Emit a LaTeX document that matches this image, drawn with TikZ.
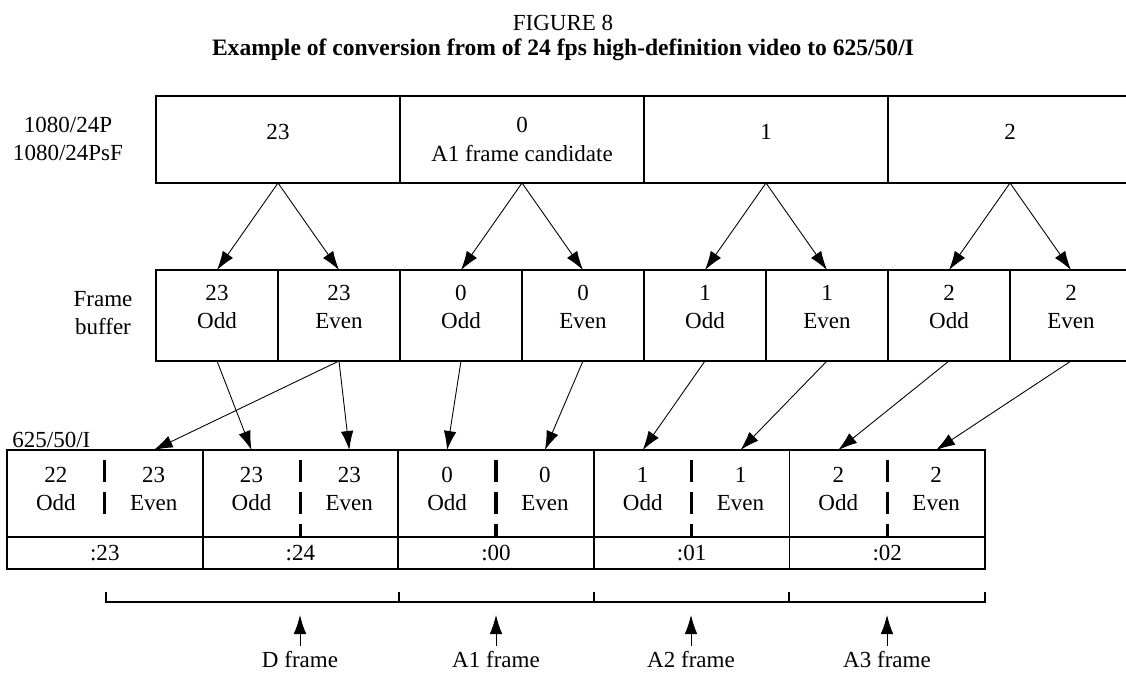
\documentclass[tikz,border=0pt]{standalone}
\usepackage{fontspec}
\setmainfont{Liberation Serif}
\usetikzlibrary{arrows.meta}

\tikzset{
  cellbox/.style={draw,line width=1pt,inner sep=0pt,outer sep=0pt,align=center},
  topcell/.style={cellbox,minimum width=4.88cm,minimum height=1.74cm},
  raised/.style={text depth=0.3cm},
  bufcell/.style={cellbox,minimum width=2.44cm,minimum height=1.82cm,text depth=0.35cm},
  fieldcell/.style={cellbox,minimum width=3.912cm,minimum height=1.74cm},
  timecell/.style={cellbox,minimum width=3.912cm,minimum height=0.64cm},
  halfcell/.style={inner sep=0pt,outer sep=0pt,align=center,minimum width=1.956cm,minimum height=1.74cm,text depth=0.18cm},
  split/.style={line width=1.8pt,dash pattern=on 0.44cm off 0.2cm},
  feed/.style={->,line width=0.5pt},
  bracket/.style={line width=0.8pt}
}

\begin{document}
\begin{tikzpicture}[x=0.02cm,y=-0.02cm,font=\fontsize{13.1}{16}\selectfont,
    >={Latex[length=3.8mm,width=2.5mm]}]
  \useasboundingbox (0,0) rectangle (1126,673);

  % titles
  \node (fig) at (563,23) {FIGURE 8};
  \node[font=\fontsize{13.4}{15}\selectfont\bfseries] (title) at (563,50)
    {Example of conversion from of 24 fps high-definition video to 625/50/I};

  % row labels
  \node[align=center] (src) at (68,139) {1080/24P\\1080/24PsF};
  \node[align=center] (buf) at (103,313) {Frame\\buffer};
  \node[anchor=west,inner sep=0pt] (out) at (12,440) {625/50/I};

  % source frames
  \node[topcell,raised] (s23) at (278,139.5) {23};
  \node[topcell] (s0) at (522,139.5) {0\\A1 frame candidate};
  \node[topcell,raised] (s1) at (766,139.5) {1};
  \node[topcell,raised] (s2) at (1010,139.5) {2};

  % frame buffer
  \node[bufcell] (b23o) at (217,315.5) {23\\Odd};
  \node[bufcell] (b23e) at (339,315.5) {23\\Even};
  \node[bufcell] (b0o) at (461,315.5) {0\\Odd};
  \node[bufcell] (b0e) at (583,315.5) {0\\Even};
  \node[bufcell] (b1o) at (705,315.5) {1\\Odd};
  \node[bufcell] (b1e) at (827,315.5) {1\\Even};
  \node[bufcell] (b2o) at (949,315.5) {2\\Odd};
  \node[bufcell] (b2e) at (1071,315.5) {2\\Even};

  % output frames
  \node[fieldcell] (f1) at (104.8,493.5) {};
  \node[fieldcell] (f2) at (300.4,493.5) {};
  \node[fieldcell] (f3) at (496,493.5) {};
  \node[fieldcell] (f4) at (691.6,493.5) {};
  \node[fieldcell] (f5) at (887.2,493.5) {};
  \node[timecell] (t1) at (104.8,553) {:23};
  \node[timecell] (t2) at (300.4,553) {:24};
  \node[timecell] (t3) at (496,553) {:00};
  \node[timecell] (t4) at (691.6,553) {:01};
  \node[timecell] (t5) at (887.2,553) {:02};
  \node[halfcell] (f1o) at (55.9,493.5) {22\\Odd};
  \node[halfcell] (f1e) at (153.7,493.5) {23\\Even};
  \node[halfcell] (f2o) at (251.5,493.5) {23\\Odd};
  \node[halfcell] (f2e) at (349.3,493.5) {23\\Even};
  \node[halfcell] (f3o) at (447.1,493.5) {0\\Odd};
  \node[halfcell] (f3e) at (544.9,493.5) {0\\Even};
  \node[halfcell] (f4o) at (642.7,493.5) {1\\Odd};
  \node[halfcell] (f4e) at (740.5,493.5) {1\\Even};
  \node[halfcell] (f5o) at (838.3,493.5) {2\\Odd};
  \node[halfcell] (f5e) at (936.1,493.5) {2\\Even};

  % field splits
  \draw[split] ([yshift=-0.2cm]f1.north) -- ([yshift=0.4cm]f1.south);
  \draw[split] ([yshift=-0.2cm]f2.north) -- (f2.south);
  \draw[split] ([yshift=-0.2cm]f3.north) -- (f3.south);
  \draw[split] ([yshift=-0.2cm]f4.north) -- (f4.south);
  \draw[split] ([yshift=-0.2cm]f5.north) -- (f5.south);

  \path[feed]
    (s23.south) edge (b23o.north)
    (s23.south) edge (b23e.north)
    (s0.south) edge (b0o.north)
    (s0.south) edge (b0e.north)
    (s1.south) edge (b1o.north)
    (s1.south) edge (b1e.north)
    (s2.south) edge (b2o.north)
    (s2.south) edge (b2e.north)
    (b23o.south) edge (f2o.north)
    (b23e.south) edge (f1e.north)
    (b23e.south) edge (f2e.north)
    (b0o.south) edge (f3o.north)
    (b0e.south) edge (f3e.north)
    (b1o.south) edge (f4o.north)
    (b1e.south) edge (f4e.north)
    (b2o.south) edge (f5o.north)
    (b2e.south) edge (f5e.north)
    ;

  % frame spans
  \coordinate (k0) at (106,602);
  \coordinate (k1) at (399,602);
  \coordinate (k2) at (594,602);
  \coordinate (k3) at (789,602);
  \coordinate (k4) at (985,602);
  \draw[bracket] ([yshift=0.2cm]k0) -- (k0) -- (k4) -- ([yshift=0.2cm]k4);
  \draw[bracket] ([yshift=0.2cm]k1) -- (k1);
  \draw[bracket] ([yshift=0.2cm]k2) -- (k2);
  \draw[bracket] ([yshift=0.2cm]k3) -- (k3);

  \node (lD) at (300,660) {D frame};
  \node (lA1) at (496,660) {A1 frame};
  \node (lA2) at (691,660) {A2 frame};
  \node (lA3) at (887,660) {A3 frame};
  \coordinate (pD) at (300,615);
  \coordinate (pA1) at (496,615);
  \coordinate (pA2) at (691,615);
  \coordinate (pA3) at (887,615);
  \path[feed]
    (lD) edge (pD)
    (lA1) edge (pA1)
    (lA2) edge (pA2)
    (lA3) edge (pA3)
    ;
\end{tikzpicture}
\end{document}
